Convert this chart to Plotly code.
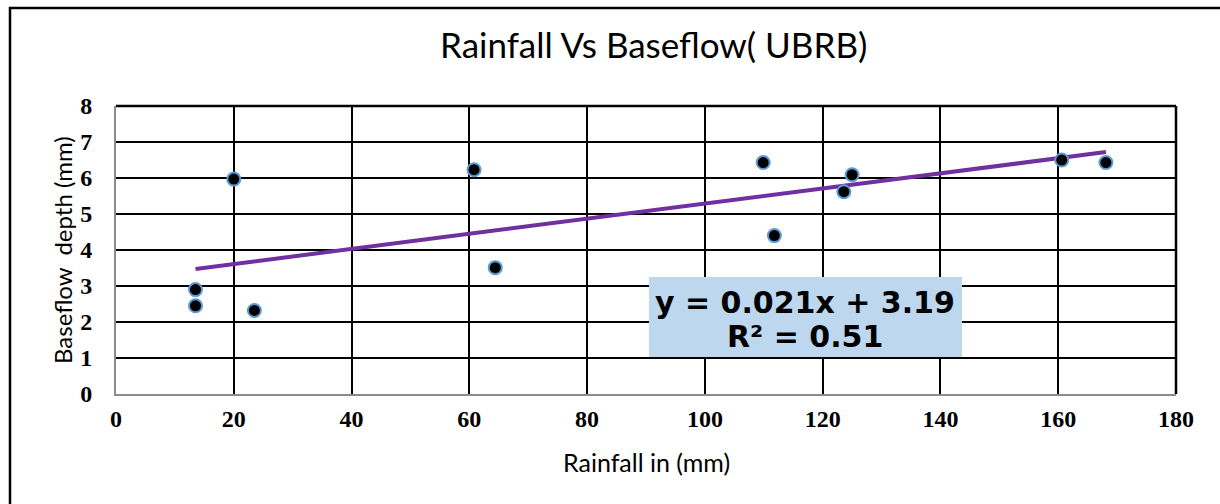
import numpy as np
import plotly.graph_objects as go

rainfall = [13.5, 13.5, 20.0, 23.5, 60.8, 64.4, 109.9, 111.8, 123.6, 125.0, 160.6, 168.1]
baseflow = [2.90, 2.45, 5.97, 2.32, 6.23, 3.51, 6.43, 4.40, 5.62, 6.09, 6.50, 6.43]
slope = 0.021
intercept = 3.19
r2 = 0.51
x_ticks = [0, 20, 40, 60, 80, 100, 120, 140, 160, 180]
y_ticks = [0, 1, 2, 3, 4, 5, 6, 7, 8]

W, H = 1220, 504
L, R, T, B = 116, 44, 106, 110
pw, ph = W - L - R, H - T - B

def px(xp):
    return (xp - L) / pw

def py(yp):
    return 1 - (yp - T) / ph

fit_x = np.array([min(rainfall), max(rainfall)])
fit_y = slope * fit_x + intercept

fig = go.Figure()
fig.add_trace(go.Scatter(
    x=fit_x, y=fit_y, mode="lines",
    line=dict(color="#7030A0", width=4), showlegend=False, hoverinfo="skip"))
fig.add_trace(go.Scatter(
    x=rainfall, y=baseflow, mode="markers",
    marker=dict(color="black", size=13, line=dict(color="#5B9BD5", width=2)),
    showlegend=False))

tickfont = dict(family="Liberation Serif", size=24, color="black", weight="bold")
fig.update_xaxes(range=[0, 180], tickvals=x_ticks, showgrid=True, gridcolor="black",
                 gridwidth=2, showline=True, linecolor="#8c8c8c", linewidth=2,
                 zeroline=False, ticks="", ticklabelstandoff=2, tickfont=tickfont)
fig.update_yaxes(range=[0, 8], tickvals=y_ticks, showgrid=True, gridcolor="black",
                 gridwidth=2, showline=True, linecolor="#8c8c8c", linewidth=2,
                 zeroline=False, ticks="", ticklabelstandoff=17, tickfont=tickfont)

shapes = [
    # outer chart border
    dict(type="rect", xref="paper", yref="paper", x0=px(10), x1=px(1240), y0=py(530), y1=py(8),
         line=dict(color="black", width=2.5), fillcolor="rgba(0,0,0,0)", layer="below"),
    # top/right plot border
    dict(type="line", xref="paper", yref="paper", x0=0, x1=1, y0=1, y1=1,
         line=dict(color="black", width=2.5)),
    dict(type="line", xref="paper", yref="paper", x0=1, x1=1, y0=0, y1=1,
         line=dict(color="black", width=2.5)),
    # equation box
    dict(type="rect", xref="paper", yref="paper", x0=px(649), x1=px(962), y0=py(357), y1=py(277),
         line=dict(width=0), fillcolor="#BDD7EE", layer="above"),
]

annotations = [
    dict(text=f"y = {slope}x + {intercept}", xref="paper", yref="paper",
         x=px(805), y=py(302), showarrow=False, xanchor="center", yanchor="middle",
         font=dict(family="DejaVu Sans", size=30, color="black", weight="bold")),
    dict(text=f"R² = {r2}", xref="paper", yref="paper",
         x=px(805), y=py(336), showarrow=False, xanchor="center", yanchor="middle",
         font=dict(family="DejaVu Sans", size=30, color="black", weight="bold")),
    dict(text="Rainfall in (mm)", xref="paper", yref="paper",
         x=px(646), y=py(462), showarrow=False, xanchor="center", yanchor="middle",
         font=dict(family="Lato", size=25, color="black")),
    dict(text="Baseflow  depth (mm)", xref="paper", yref="paper",
         x=px(62), y=py(250), showarrow=False, xanchor="center", yanchor="middle",
         textangle=-90, font=dict(family="Lato", size=24, color="black")),
    dict(text="Rainfall Vs Baseflow( UBRB)", xref="paper", yref="paper",
         x=px(653), y=py(44), showarrow=False, xanchor="center", yanchor="middle",
         font=dict(family="Lato", size=35, color="black")),
]

fig.update_layout(
    width=W, height=H,
    margin=dict(l=L, r=R, t=T, b=B),
    paper_bgcolor="white", plot_bgcolor="white",
    shapes=shapes, annotations=annotations,
)

fig.write_html("out.html")
